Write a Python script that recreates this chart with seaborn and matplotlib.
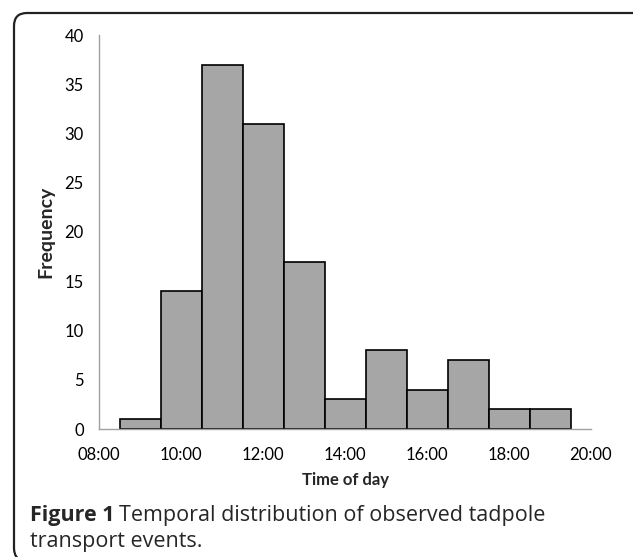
import matplotlib
matplotlib.use("Agg")
import matplotlib.pyplot as plt
import seaborn as sns
import pandas as pd
from matplotlib.patches import FancyBboxPatch
from matplotlib.transforms import IdentityTransform

# bins are one hour wide, centred on the full hour
hours = [9, 10, 11, 12, 13, 14, 15, 16, 17, 18, 19]
counts = [1, 14, 37, 31, 17, 3, 8, 4, 7, 2, 2]
bin_edges = [8.5, 9.5, 10.5, 11.5, 12.5, 13.5, 14.5, 15.5, 16.5, 17.5, 18.5, 19.5]
xtick_labels = ["08:00", "10:00", "12:00", "14:00", "16:00", "18:00", "20:00"]

df = pd.DataFrame({"hour": hours, "count": counts})

sns.set_style("white")
plt.rcParams["font.family"] = ["Lato", "DejaVu Sans"]

W, H = 633, 557
fig = plt.figure(figsize=(W / 100, H / 100), dpi=100)
ax = fig.add_axes([99 / W, 1 - 429 / H, (591 - 99) / W, (429 - 35) / H])

sns.histplot(data=df, x="hour", weights="count", bins=bin_edges, ax=ax,
             color="#a6a6a6", edgecolor="black", linewidth=1.2, alpha=1)

grey = "#a0a0a0"
ax.set_xlim(8, 20)
ax.set_ylim(0, 40)
ax.set_xticks(range(8, 21))
ax.set_xticklabels([xtick_labels[i // 2] if i % 2 == 0 else "" for i in range(13)])
ax.set_yticks(range(0, 41, 5))
ax.tick_params(axis="both", direction="out", length=5, width=1, color=grey,
               labelsize=12, labelcolor="black")
ax.tick_params(axis="x", pad=8)
ax.tick_params(axis="y", pad=6)
for s in ["top", "right"]:
    ax.spines[s].set_visible(False)
for s in ["left", "bottom"]:
    ax.spines[s].set_color(grey)
    ax.spines[s].set_linewidth(1)

ax.set_xlabel("")
ax.set_ylabel("")
fig.text(346 / W, 1 - 480 / H, "Time of day", fontsize=12, fontweight="bold",
         ha="center", va="center")
fig.text(46 / W, 1 - 232 / H, "Frequency", fontsize=14, fontweight="bold",
         ha="center", va="center", rotation=90)

# caption below the chart
cap_font = ["Open Sans", "DejaVu Sans"]
t1 = fig.text(30 / W, 1 - 516 / H, "Figure 1", fontsize=15.5, fontweight="bold",
              family=cap_font, va="center", ha="left")
r = fig.canvas.get_renderer()
x_end = t1.get_window_extent(r).x1
fig.text((x_end + 5) / W, 1 - 516 / H, "Temporal distribution of observed tadpole",
         fontsize=15.5, family=cap_font, va="center", ha="left")
fig.text(30 / W, 1 - 542 / H, "transport events.", fontsize=15.5,
         family=cap_font, va="center", ha="left")

# rounded frame in pixel units, right and bottom edges fall outside
frame = FancyBboxPatch((14, -4), 800, H - 13 + 4,
                       boxstyle="round,pad=0,rounding_size=13",
                       transform=IdentityTransform(), fill=False,
                       edgecolor="#222222", linewidth=1.6, clip_on=False)
fig.patches.append(frame)

fig.savefig("out.png", dpi=100)
